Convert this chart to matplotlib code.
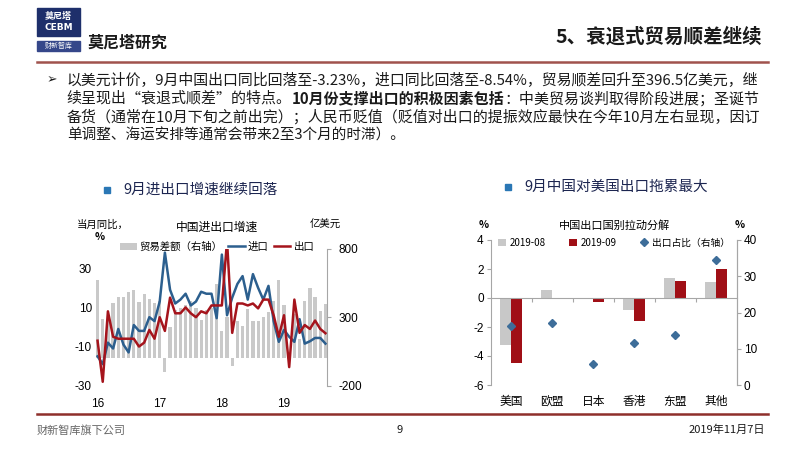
import matplotlib
matplotlib.use('Agg')
import matplotlib.pyplot as plt
import matplotlib.patches as mpatches
from matplotlib.lines import Line2D
import numpy as np

plt.rcParams['font.family'] = ['Noto Sans CJK SC', 'DejaVu Sans']
plt.rcParams['axes.unicode_minus'] = False

# left chart: 中国进出口增速, monthly Jan 2016 - Sep 2019
year_labels = ['16', '17', '18', '19']
trade_balance = [570, 290, 270, 405, 450, 450, 485, 500, 410, 470, 430, 405,
                 420, -100, 228, 350, 370, 390, 420, 370, 282, 355, 370, 540,
                 200, 300, -56, 270, 235, 360, 270, 270, 300, 340, 420, 570,
                 390, 40, 326, 138, 417, 510, 450, 348, 397]
import_yoy = [-15, -19, -8, -11, -1, -9, -13, 1, -2, -2, 5, 3,
              13, 38, 19, 12, 14, 17, 11, 13, 18, 17, 17, 4.5,
              37, 6, 15, 22, 26, 14, 27, 20, 14, 21, 3, -7.6,
              -1.5, -5, -7.6, 4, -8.5, -7.3, -5.6, -5.6, -8.5]
export_yoy = [-7, -28, 8, -5, -6, -6, -6, -6, -10, -8, -1.5, -6,
              5, -2, 15, 7, 7, 10, 7, 5, 8, 7, 11, 11,
              11, 44, -3, 12, 12, 11, 12, 9.5, 14, 14, 6, -5,
              6, -20.5, 14, -3, 1, -1, 3.3, -1, -3.2]

# right chart: 中国出口国别拉动分解
regions = ['美国', '欧盟', '日本', '香港', '东盟', '其他']
pull_2019_08 = [-3.22, 0.52, -0.03, -0.8, 1.38, 1.08]
pull_2019_09 = [-4.48, 0.03, -0.28, -1.6, 1.17, 2.0]
export_share = [16.4, 17.1, 5.8, 11.5, 13.7, 34.6]

W, H = 800, 450


def fx(px):
    return px / W


def fy(py):
    return 1 - py / H


GREY_SPINE = '#a6a6a6'
NUM_FONT = 'Liberation Sans'

fig = plt.figure(figsize=(8, 4.5), dpi=100, facecolor='white')
renderer = fig.canvas.get_renderer()

# header
fig.add_artist(mpatches.Rectangle((fx(37), fy(36)), 43 / W, 28 / H, color='#1e2f6b',
                                  transform=fig.transFigure))
fig.text(fx(58.5), fy(16), '莫尼塔', color='white', fontsize=6.5, weight='bold',
         ha='center', va='center')
fig.text(fx(58.5), fy(28), 'CEBM', color='white', fontsize=6.5, weight='bold',
         ha='center', va='center', family='DejaVu Sans')
fig.add_artist(mpatches.Rectangle((fx(37), fy(51)), 43 / W, 10 / H, color='#35478a',
                                  transform=fig.transFigure))
fig.text(fx(58.5), fy(46), '财新智库', color='white', fontsize=5, ha='center', va='center')
fig.text(fx(87), fy(43), '莫尼塔研究', fontsize=11.5, weight='bold', color='#1a1a1a',
         ha='left', va='center')
fig.text(fx(762), fy(37), '5、衰退式贸易顺差继续', fontsize=14, weight='bold',
         color='#1a1a1a', ha='right', va='center')
fig.add_artist(Line2D([fx(37), fx(768)], [fy(62.3), fy(62.3)], color='#a0524d', lw=1.8))

# bullet text
body = [
    [('以美元计价，9月中国出口同比回落至-3.23%，进口同比回落至-8.54%，贸易顺差回升至396.5亿美元，继', False)],
    [('续呈现出“衰退式顺差”的特点。', False), ('10月份支撑出口的积极因素包括', True),
     ('：中美贸易谈判取得阶段进展；圣诞节', False)],
    [('备货（通常在10月下旬之前出完）；人民币贬值（贬值对出口的提振效应最快在今年10月左右显现，因订', False)],
    [('单调整、海运安排等通常会带来2至3个月的时滞）。', False)],
]


def draw_parts(x_px, y_px, parts, size):
    x = x_px
    texts = []
    for txt, bold in parts:
        t = fig.text(fx(x), fy(y_px), txt, fontsize=size, color='#1a1a1a',
                     weight='bold' if bold else 'normal', ha='left', va='center')
        x += t.get_window_extent(renderer).width
        texts.append(t)
    return x - x_px, texts


left_px, right_px = 66.7, 761
base = 10.5
for k, parts in enumerate(body):
    y = 80 + k * 18.6
    width, texts = draw_parts(left_px, y, parts, base)
    if k < 3:
        for t in texts:
            t.remove()
        draw_parts(left_px, y, parts, base * (right_px - left_px) / width)
fig.text(fx(51.7), fy(80), '➢', fontsize=9, family='DejaVu Sans', ha='center',
         va='center', color='#1a1a1a')

# section titles
for sx, sy, title in [(107, 190, '9月进出口增速继续回落'), (508, 187, '9月中国对美国出口拖累最大')]:
    fig.add_artist(mpatches.Rectangle((fx(sx - 3), fy(sy + 3)), 6 / W, 6 / H,
                                      color='#2a77b5', transform=fig.transFigure))
    fig.text(fx(sx + 16), fy(sy), title, fontsize=10.5, color='#1c2550',
             ha='left', va='center')

# ---------------- left chart ----------------
x = np.arange(len(trade_balance))
ax_bal = fig.add_axes([fx(96), fy(385.7), (327 - 96) / W, (385.7 - 248.7) / H])
ax_yoy = ax_bal.twinx()

bars = ax_bal.bar(x, trade_balance, width=0.62, color='#c9c9c9', zorder=1)
ax_bal.set_ylim(-200, 800)
ax_bal.set_xlim(-0.3, len(x) - 0.7)
ax_bal.yaxis.tick_right()
ax_bal.set_yticks([-200, 300, 800])
ax_bal.tick_params(axis='y', length=3, width=0.8, color=GREY_SPINE, pad=5,
                   labelsize=8.5, labelfontfamily=NUM_FONT)
ax_bal.set_xticks([0, 12, 24, 36])
ax_bal.set_xticklabels(year_labels)
ax_bal.tick_params(axis='x', length=0, pad=9, labelsize=8.5, labelfontfamily=NUM_FONT)
for s in ['top', 'left', 'bottom']:
    ax_bal.spines[s].set_visible(False)
ax_bal.spines['right'].set_color(GREY_SPINE)

l_imp, = ax_yoy.plot(x, import_yoy, color='#2c5f8e', lw=1.8)
l_exp, = ax_yoy.plot(x, export_yoy, color='#a5141c', lw=1.8)
ax_yoy.set_ylim(-30, 40)
ax_yoy.yaxis.tick_left()
ax_yoy.set_yticks([-30, -10, 10, 30])
ax_yoy.tick_params(axis='y', length=0, pad=3, labelsize=8.5, labelfontfamily=NUM_FONT)
for s in ax_yoy.spines.values():
    s.set_visible(False)

ax_yoy.legend([bars, l_imp, l_exp], ['贸易差额（右轴）', '进口', '出口'], ncol=3,
              loc='center', bbox_to_anchor=(fx(217), fy(247)), bbox_transform=fig.transFigure,
              frameon=False, fontsize=7.5, handlelength=1.6, handletextpad=0.3,
              columnspacing=0.5, borderpad=0)
fig.text(fx(216.7), fy(227), '中国进出口增速', fontsize=8.5, ha='center', va='center')
fig.text(fx(77), fy(225), '当月同比，', fontsize=7.5, ha='left', va='center')
fig.text(fx(100), fy(237), '%', fontsize=7.5, ha='center', va='center', weight='bold')
fig.text(fx(325), fy(225), '亿美元', fontsize=7.5, ha='center', va='center')

# ---------------- right chart ----------------
pos = np.arange(len(regions))
ax_pull = fig.add_axes([fx(490.7), fy(385), (736.7 - 490.7) / W, (385 - 240) / H])
ax_share = ax_pull.twinx()

b_aug = ax_pull.bar(pos - 0.14, pull_2019_08, 0.27, color='#c8c8c8')
b_sep = ax_pull.bar(pos + 0.14, pull_2019_09, 0.27, color='#a00f16')
ax_pull.set_ylim(-6, 4)
ax_pull.set_xlim(-0.5, len(regions) - 0.5)
ax_pull.set_yticks([-6, -4, -2, 0, 2, 4])
ax_pull.tick_params(axis='y', length=3, width=0.8, color=GREY_SPINE, pad=2,
                    labelsize=8.5, labelfontfamily=NUM_FONT)
ax_pull.spines['bottom'].set_position(('data', 0))
ax_pull.spines['top'].set_visible(False)
for s in ['bottom', 'left', 'right']:
    ax_pull.spines[s].set_color(GREY_SPINE)
ax_pull.set_xticks(pos[:-1] + 0.5)
ax_pull.set_xticklabels([])
ax_pull.tick_params(axis='x', length=3, width=0.8, color=GREY_SPINE, direction='out')
for i, name in enumerate(regions):
    ax_pull.text(i, -0.115, name, transform=ax_pull.get_xaxis_transform(),
                 ha='center', va='center', fontsize=8.5)

dia, = ax_share.plot(pos, export_share, linestyle='none', marker='D', ms=4.5,
                     color='#3d6d99')
ax_share.set_ylim(0, 40)
ax_share.set_yticks([0, 10, 20, 30, 40])
ax_share.tick_params(axis='y', length=3, width=0.8, color=GREY_SPINE, pad=2,
                     labelsize=8.5, labelfontfamily=NUM_FONT)
for s in ['top', 'bottom', 'left']:
    ax_share.spines[s].set_visible(False)
ax_share.spines['right'].set_color(GREY_SPINE)

ax_share.legend([b_aug, b_sep, dia], ['2019-08', '2019-09', '出口占比（右轴）'], ncol=3,
                loc='center', bbox_to_anchor=(fx(614), fy(243)), bbox_transform=fig.transFigure,
                frameon=False, fontsize=7, handlelength=0.8, handleheight=0.8,
                handletextpad=0.4, columnspacing=2.4, borderpad=0)
fig.text(fx(615), fy(225), '中国出口国别拉动分解', fontsize=8, ha='center', va='center')
fig.text(fx(484), fy(225), '%', fontsize=7.5, ha='center', va='center', weight='bold')
fig.text(fx(740), fy(225), '%', fontsize=7.5, ha='center', va='center', weight='bold')

# footer
fig.add_artist(Line2D([fx(37), fx(768)], [fy(414), fy(414)], color='#8e2f2b', lw=1.8))
fig.text(fx(37), fy(430), '财新智库旗下公司', fontsize=8, color='#666666', ha='left', va='center')
fig.text(fx(400), fy(430), '9', fontsize=8, color='#1a1a1a', ha='center', va='center')
fig.text(fx(765), fy(430), '2019年11月7日', fontsize=8, color='#1a1a1a', ha='right', va='center')

fig.savefig('out.png', dpi=100, facecolor='white')
